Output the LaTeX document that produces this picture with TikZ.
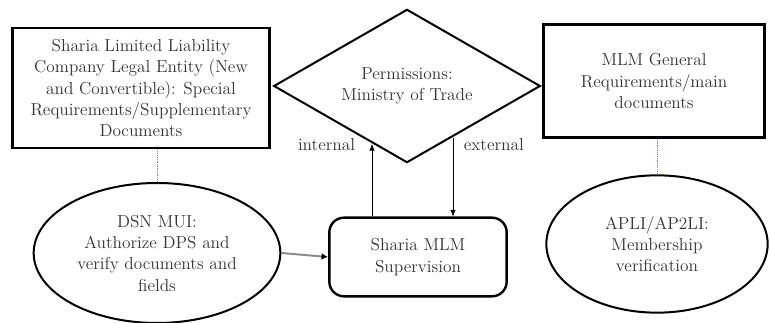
\documentclass[tikz,border=0pt]{standalone}
\usetikzlibrary{arrows,arrows.meta,shapes.geometric}
\newcommand{\tx}{\fontsize{13}{16}\selectfont}

\begin{document}
\begin{tikzpicture}[x=0.75pt,y=-0.75pt,
   every node/.style={align=center,text=black!80,font=\tx,inner sep=2pt},
   doc/.style={draw,rectangle,line width=2pt},
   perm/.style={draw,diamond,line width=1.5pt,aspect=1.73},
   body/.style={draw,ellipse,line width=1.5pt},
   sup/.style={draw,rectangle,rounded corners=11pt,line width=1.8pt},
   link/.style={-{Latex[length=5pt,width=4pt]},thin},
   tie/.style={blue!55,densely dotted,thin}]
   \useasboundingbox (0,0) rectangle (770,323);
   % top row
   \node[doc,minimum width=193pt,minimum height=90pt] (legal) at (141,88)
    {Sharia Limited Liability\\Company Legal Entity (New\\and Convertible): Special\\Requirements/Supplementary\\Documents};
   \node[perm,minimum width=200pt,minimum height=115pt] (trade) at (407,86)
    {Permissions:\\Ministry of Trade};
   \node[doc,minimum width=166pt,minimum height=85pt] (general) at (654,81)
    {MLM General\\Requirements/main\\documents};
   % bottom row
   \node[body,minimum width=185pt,minimum height=105pt] (dsn) at (157,253)
    {DSN MUI:\\Authorize DPS and\\verify documents and\\fields};
   \node[sup,minimum width=133pt,minimum height=59pt] (mlm) at (418,257)
    {Sharia MLM\\Supervision};
   \node[body,minimum width=166pt,minimum height=103pt] (apli) at (657,244)
    {APLI/AP2LI:\\Membership\\verification};
   % links
   \coordinate (inTop) at (372,144);
   \coordinate (exTop) at (453,138);
   \draw[tie] (dsn.north |- legal.south) -- (dsn.north);
   \draw[tie] (apli.north |- general.south) -- (apli.north);
   \draw[link] (mlm.north -| inTop) -- (inTop);
   \draw[link] (exTop) -- (mlm.north -| exTop);
   \draw[-{Latex[length=5pt,width=5pt,black]},draw=black!45,line width=1.5pt] (dsn.east) -- (mlm.west);
   \node[anchor=east] (lin) at (358,145) {internal};
   \node[anchor=west] (lex) at (461,145) {external};
\end{tikzpicture}
\end{document}
